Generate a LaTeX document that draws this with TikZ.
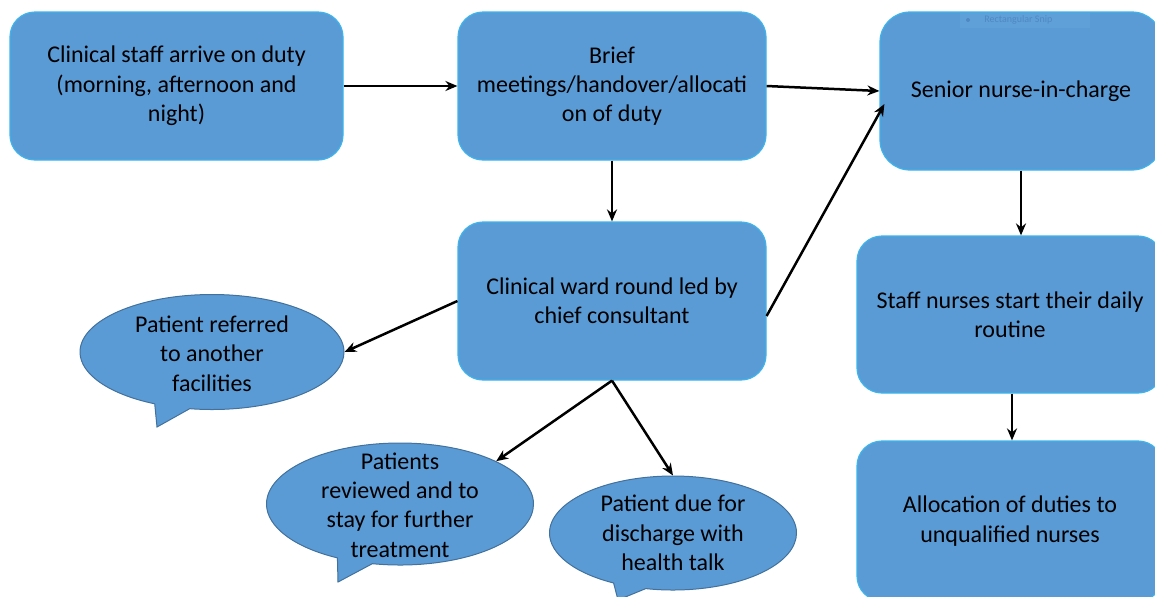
\documentclass[tikz,border=0pt]{standalone}
\usepackage{fontspec}
\setmainfont{Carlito}
\usetikzlibrary{shapes.callouts,arrows.meta,calc}
\definecolor{boxfill}{HTML}{5B9BD5}
\definecolor{boxline}{HTML}{3DB5EC}
\definecolor{callline}{HTML}{41719C}
\definecolor{snipfill}{HTML}{5FA0D8}
\definecolor{sniptext}{HTML}{4F88C2}
\tikzset{
  box/.style={draw=boxline, line width=0.6pt, fill=boxfill, rounded corners=12.5pt,
    align=center, inner sep=0pt, font=\fontsize{12}{14.65}\selectfont},
  bubble/.style={ellipse callout, draw=callline, line width=0.5pt, fill=boxfill,
    inner sep=0pt, callout pointer arc=16},
  bubbletext/.style={align=center, inner sep=0pt, font=\fontsize{12}{14.65}\selectfont},
  flow/.style={line width=1.25pt, -{Stealth[length=6pt,width=5pt]}}
}
\begin{document}
\begin{tikzpicture}[x=0.5pt,y=-0.5pt]
\useasboundingbox (0,0) rectangle (1155,596);
\fill[white] (0,0) rectangle (1155,596);
% boxes
\node[box, minimum width=166.5pt, minimum height=74pt] (A) at (176.5,86)
  {Clinical staff arrive on duty\\(morning, afternoon and\\night)};
\node[box, minimum width=154pt, minimum height=74pt] (B) at (612,86)
  {Brief\\meetings/handover/allocati\\on of duty};
\node[box, rounded corners=15pt, minimum width=141pt, minimum height=79pt] (C) at (1021,91)
  {Senior nurse-in-charge};
\node[box, minimum width=154pt, minimum height=79pt] (D) at (612,301)
  {Clinical ward round led by\\chief consultant};
\node[box, minimum width=153pt, minimum height=78.5pt] (E) at (1010,314.5)
  {Staff nurses start their daily\\routine};
\node[box, minimum width=153pt, minimum height=80pt] (F) at (1010,521)
  {Allocation of duties to\\unqualified nurses};
% faint snip artifact
\fill[snipfill] (960,12.5) rectangle (1090,28);
\node[circle, fill=sniptext, inner sep=0pt, minimum size=2pt] (sd) at (968,20) {};
\node[text=sniptext, font=\fontsize{5}{5}\selectfont, anchor=west, inner sep=0pt] (st) at (984,20) {Rectangular Snip};
% callouts
\node[bubble, minimum width=132pt, minimum height=57.5pt, callout absolute pointer={(157,427)}] (P1) at (212,352) {};
\node[bubbletext] (P1t) at (212,353.5) {Patient referred\\to another\\facilities};
\node[bubble, minimum width=133.5pt, minimum height=61pt, callout absolute pointer={(338,582)}] (P2) at (400,504) {};
\node[bubbletext] (P2t) at (400,505) {Patients\\reviewed and to\\stay for further\\treatment};
\node[bubble, minimum width=123.5pt, minimum height=57pt, callout absolute pointer={(618,600)}] (P3) at (673,533) {};
\node[bubbletext] (P3t) at (673,533) {Patient due for\\discharge with\\health talk};
% connectors
\draw[flow] (A.east) -- (B.west);
\draw[flow] (B.east) -- (C.west);
\draw[flow] (B.south) -- (D.north);
\draw[flow] ([yshift=-7.5pt]D.east) -- ([xshift=2.5pt,yshift=-6.5pt]C.west);
\draw[flow] (D.west) -- (P1.east);
\draw[flow] (D.south) -- (P2.24);
\draw[flow] (D.south) -- (P3.north);
\draw[flow] (C.south) -- (C.south |- E.north);
\draw[flow] ([xshift=1pt]E.south) -- ([xshift=1pt]F.north);
\end{tikzpicture}
\end{document}
